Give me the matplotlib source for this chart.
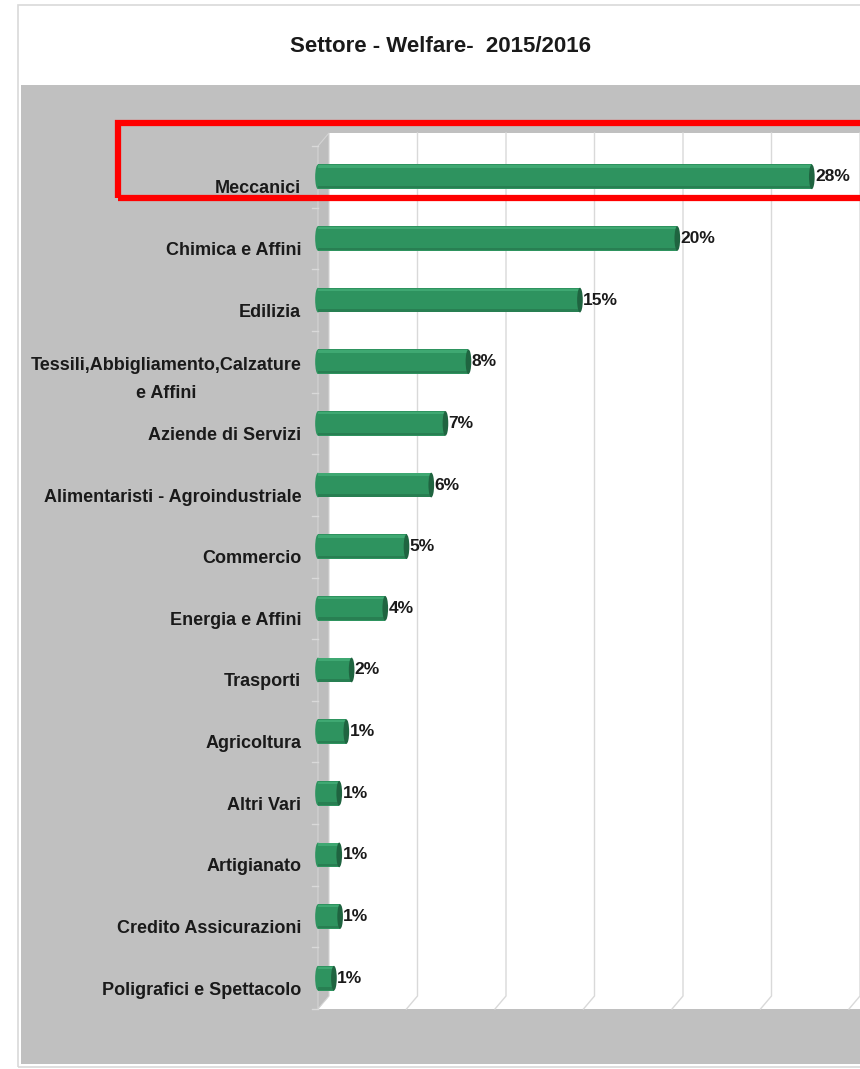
import matplotlib
matplotlib.use("Agg")
import matplotlib.pyplot as plt
from matplotlib.patches import Rectangle, Polygon, Ellipse
from matplotlib.lines import Line2D
from matplotlib.transforms import ScaledTranslation

# ── data ──────────────────────────────────────────────────────────────────────
categories = [
    "Meccanici", "Chimica e Affini", "Edilizia",
    "Tessili,Abbigliamento,Calzature\ne Affini", "Aziende di Servizi",
    "Alimentaristi - Agroindustriale", "Commercio", "Energia e Affini",
    "Trasporti", "Agricoltura", "Altri Vari", "Artigianato",
    "Credito Assicurazioni", "Poligrafici e Spettacolo",
]
values = [27.9, 20.3, 14.8, 8.5, 7.2, 6.4, 5.0, 3.8, 1.9, 1.6, 1.2, 1.2, 1.25, 0.9]
value_labels = ["28%", "20%", "15%", "8%", "7%", "6%", "5%", "4%",
                "2%", "1%", "1%", "1%", "1%", "1%"]
grid_ticks = [0, 5, 10, 15, 20, 25, 30]

FONT = ["Liberation Sans Narrow", "Liberation Sans", "DejaVu Sans"]
W, H, DPI = 860, 1069, 100

fig = plt.figure(figsize=(W / DPI, H / DPI), dpi=DPI)
fig.patch.set_facecolor("white")


def fx(x):
    return x / W


def fy(y):
    return 1 - y / H


# outer border and grey chart area
fig.patches.append(Rectangle((fx(18), fy(1067)), fx(900), 1067 / H - 5 / H,
                             transform=fig.transFigure, fill=False,
                             edgecolor="#D9D9D9", lw=1.2, zorder=-2))
fig.patches.append(Rectangle((fx(21), fy(1064)), fx(900), (1064 - 85) / H,
                             transform=fig.transFigure, facecolor="#C0C0C0",
                             edgecolor="none", zorder=-1))

fig.text(fx(440), fy(46), "Settore - Welfare-  2015/2016", ha="center", va="center",
         fontsize=16, fontweight="bold", family=FONT, color="#1A1A1A")

# plot (front plane)
ax_left, ax_right, ax_top, ax_bottom = 318, 849, 146, 1009
ax = fig.add_axes([fx(ax_left), fy(ax_bottom), (ax_right - ax_left) / W,
                   (ax_bottom - ax_top) / H])
ax.set_zorder(1)
ax.set_xlim(0, 30)
ax.set_ylim(len(categories) - 0.5, -0.5)
ax.patch.set_visible(False)
for s in ax.spines.values():
    s.set_visible(False)

# 3D depth offset: back wall is up-right of front plane
DX, DY = 11, 13
back = ax.transData + ScaledTranslation(DX / DPI, DY / DPI, fig.dpi_scale_trans)
ymax = len(categories) - 0.5

# back wall
ax.add_patch(Rectangle((0, -0.5), 32, len(categories), transform=back,
                       facecolor="white", edgecolor="none", zorder=0, clip_on=False))
# floor + side wall in display coords
f_tl = ax.transData.transform((0, -0.5))
f_bl = ax.transData.transform((0, ymax))
f_br = ax.transData.transform((32, ymax))
b_tl = back.transform((0, -0.5))
b_bl = back.transform((0, ymax))
b_br = back.transform((32, ymax))
ax.add_patch(Polygon([f_bl, f_br, b_br, b_bl], closed=True, transform=None,
                     facecolor="white", edgecolor="none", zorder=0, clip_on=False))
ax.add_patch(Polygon([f_tl, f_bl, b_bl, b_tl], closed=True, transform=None,
                     facecolor="#BDBDBD", edgecolor="#D4D4D4", lw=0.8,
                     zorder=0.5, clip_on=False))

# gridlines: vertical on the back wall, diagonal across the floor
for g in grid_ticks[1:]:
    top = back.transform((g, -0.5))
    bot = back.transform((g, ymax))
    front = ax.transData.transform((g, ymax))
    ax.add_line(Line2D([top[0], bot[0], front[0]], [top[1], bot[1], front[1]],
                       transform=None, color="#D9D9D9", lw=1.0, zorder=0.6,
                       clip_on=False))

# category ticks on the side wall
for b in range(len(categories) + 1):
    ax.plot([-0.35, 0], [b - 0.5, b - 0.5], color="#D9D9D9", lw=1.0,
            zorder=0.7, clip_on=False)

# bars
bh = 0.40
cap_w = 0.32
for i, v in enumerate(values):
    ax.barh(i, v, height=bh, color="#2E935F", edgecolor="none", zorder=2)
    ax.barh(i - bh * 0.42, v, height=bh * 0.10, color="#3FA872",
            edgecolor="none", zorder=2.1)
    ax.barh(i + bh * 0.42, v, height=bh * 0.10, color="#287F52",
            edgecolor="none", zorder=2.1)
    ax.add_patch(Ellipse((0, i), cap_w, bh, facecolor="#2E935F",
                         edgecolor="none", zorder=1.9, clip_on=False))
    ax.add_patch(Ellipse((v, i), cap_w, bh, facecolor="#1F6440",
                         edgecolor="none", zorder=2.2, clip_on=False))
    ax.text(v + cap_w / 2 + 0.02, i, value_labels[i], ha="left",
            va="center", fontsize=12.5, fontweight="bold", family=FONT,
            color="#1A1A1A", zorder=3)

# category labels
ax.set_xticks([])
ax.set_yticks(range(len(categories)))
ax.set_yticklabels(categories, fontsize=13, fontweight="bold", family=FONT,
                   color="#1A1A1A")
ax.tick_params(axis="y", length=0, pad=12)
shift = ScaledTranslation(0, -10 / DPI, fig.dpi_scale_trans)
for lab in ax.get_yticklabels():
    lab.set_transform(lab.get_transform() + shift)
    lab.set_multialignment("center")
    lab.set_linespacing(1.9)

# red highlight box around the first row
fig.patches.append(Rectangle((fx(118), fy(198)), fx(760), (198 - 123) / H,
                             transform=fig.transFigure, fill=False,
                             edgecolor="#FF0000", lw=4.5, zorder=10))

plt.savefig("out.png", dpi=DPI)
